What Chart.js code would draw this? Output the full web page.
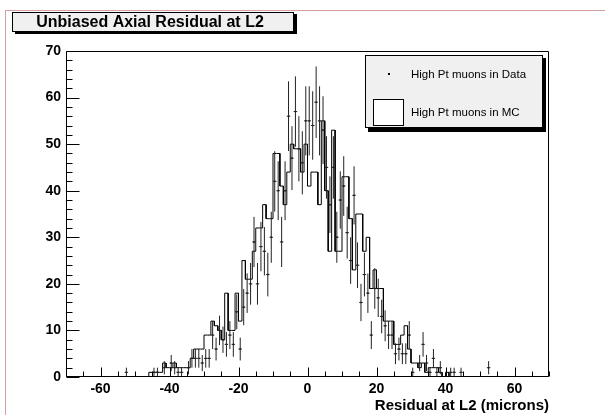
<!DOCTYPE html>
<html><head><meta charset="utf-8">
<script src="https://cdn.jsdelivr.net/npm/chart.js@4"></script>
<style>html,body{margin:0;padding:0;background:#fff}canvas{display:block}</style>
</head><body>
<canvas id="c" width="605" height="415"></canvas>
<script>
const chartTitle = 'Unbiased Axial Residual at L2';
const xAxisTitle = 'Residual at L2 (microns)';
const legendLabels = ['High Pt muons in Data', 'High Pt muons in MC'];
const xRange = [-70, 70];
const yRange = [0, 70];
const xTickLabels = [-60, -40, -20, 0, 20, 40, 60];
const yTickLabels = [0, 10, 20, 30, 40, 50, 60, 70];
// bin centres, 1 micron bins from -70 to 70
const binCenters = Array.from({length: 140}, (_, i) => -69.5 + i);
const dataCounts = [
  0,0,0,0,0,0,0,0,0,0,
  0,0,0,0,0,0,0,1,0,0,
  0,0,0,0,0,1,1,0,2,0,
  3,2,1,1,0,2,4,4,4,3,
  4,4,9,6,10,8,7,9,7,14,
  6,15,18,20,29,20,28,27,22,30,
  42,40,29,40,56,47,57,49,46,55,
  55,54,59,55,53,45,37,45,30,38,
  41,31,25,39,24,16,22,18,9,19,
  17,13,11,9,9,5,6,5,5,9,
  1,0,3,7,3,1,4,1,2,0,
  0,1,1,0,1,0,0,0,0,0,
  0,0,2,0,0,0,0,0,0,0,
  0,0,0,0,0,0,0,0,0,0
];
const mcCounts = [
  0,0,0,0,0,0,0,0,0,0,
  0,0,0,0,0,0,0,0,0,0,
  0,0,0,0,1,1,1,1,3,2,
  2,3,2,2,2,2,4,6,6,6,
  9,9,12,11,10,8,18,10,10,18,
  12,25,21,21,27,32,32,37,34,34,
  48,48,41,37,44,50,49,49,44,50,
  41,44,44,37,55,40,27,53,27,27,
  43,43,34,23,35,35,27,30,19,23,
  19,19,12,12,12,7,7,9,11,6,
  3,3,2,3,1,2,2,2,1,0,
  1,0,0,0,0,0,0,0,0,0,
  0,0,0,0,0,0,0,0,0,0,
  0,0,0,0,0,0,0,0,0,0
];

const FONT = '"Liberation Sans", Arial, Helvetica, sans-serif';

const mcStepPoints = [];
binCenters.forEach((c, i) => {
  mcStepPoints.push({x: c - 0.5, y: mcCounts[i]}, {x: c + 0.5, y: mcCounts[i]});
});
const dataPoints = binCenters.map((c, i) => ({x: c, y: dataCounts[i]})).filter(p => p.y > 0);

const decor = {
  id: 'decor',
  beforeDraw(chart) {
    const ctx = chart.ctx;
    ctx.save();
    ctx.fillStyle = '#fff';
    ctx.fillRect(0, 0, chart.width, chart.height);
    ctx.strokeStyle = '#d4a0a0';
    ctx.lineWidth = 1;
    ctx.beginPath();
    ctx.moveTo(5.5, chart.height); ctx.lineTo(5.5, 10.5); ctx.lineTo(chart.width, 10.5);
    ctx.stroke();
    ctx.restore();
  },
  afterDatasetsDraw(chart) {
    const ctx = chart.ctx, xs = chart.scales.x, ys = chart.scales.y, a = chart.chartArea;
    ctx.save();
    // error bars
    ctx.strokeStyle = '#222';
    ctx.lineWidth = 1;
    ctx.beginPath();
    dataPoints.forEach(p => {
      const e = Math.sqrt(p.y);
      const px = xs.getPixelForValue(p.x);
      const py = ys.getPixelForValue(p.y);
      const y1 = Math.max(a.top, ys.getPixelForValue(p.y + e));
      const y2 = Math.min(a.bottom, ys.getPixelForValue(p.y - e));
      ctx.moveTo(px, y1); ctx.lineTo(px, y2);
      ctx.moveTo(xs.getPixelForValue(p.x - 0.5), py); ctx.lineTo(xs.getPixelForValue(p.x + 0.5), py);
    });
    ctx.stroke();
    // frame
    ctx.strokeStyle = '#000';
    ctx.beginPath();
    ctx.rect(Math.round(a.left) + 0.5, Math.round(a.top) + 0.5, Math.round(a.right - a.left) - 1, Math.round(a.bottom - a.top) - 1);
    ctx.stroke();
    // ticks
    ctx.beginPath();
    const yb = Math.round(a.bottom) - 0.5;
    for (let v = xRange[0]; v <= xRange[1]; v += 5) {
      const px = Math.round(xs.getPixelForValue(v)) + 0.5;
      const len = xTickLabels.includes(v) ? 9 : 5;
      ctx.moveTo(px, yb); ctx.lineTo(px, yb - len);
    }
    const xl = Math.round(a.left) + 0.5;
    for (let v = yRange[0]; v <= yRange[1]; v += 2) {
      const py = Math.round(ys.getPixelForValue(v)) + 0.5;
      const len = yTickLabels.includes(v) ? 13 : 6;
      ctx.moveTo(xl, py); ctx.lineTo(xl + len, py);
    }
    ctx.stroke();
    ctx.restore();
  },
  afterDraw(chart) {
    const ctx = chart.ctx;
    ctx.save();
    // title box
    ctx.fillStyle = '#000';
    ctx.fillRect(15, 14, 282, 20);
    ctx.fillStyle = '#f0f0f0';
    ctx.fillRect(12, 12, 282, 20);
    ctx.strokeStyle = '#000';
    ctx.lineWidth = 1;
    ctx.strokeRect(12.5, 12.5, 281, 19);
    ctx.fillStyle = '#000';
    ctx.font = 'bold 16px ' + FONT;
    ctx.textAlign = 'center';
    ctx.textBaseline = 'middle';
    ctx.fillText(chartTitle, 150, 22.5);
    // legend
    ctx.fillStyle = '#000';
    ctx.fillRect(368, 58, 178, 74);
    ctx.fillStyle = '#f0f0f0';
    ctx.fillRect(365, 55, 178, 73);
    ctx.strokeRect(365.5, 55.5, 177, 72);
    ctx.fillStyle = '#000';
    ctx.fillRect(388, 73, 2, 2);
    ctx.fillStyle = '#fff';
    ctx.fillRect(373, 99, 31, 27);
    ctx.strokeRect(373.5, 99.5, 30, 26);
    ctx.fillStyle = '#000';
    ctx.font = '11.5px ' + FONT;
    ctx.textAlign = 'left';
    ctx.fillText(legendLabels[0], 411, 74.5);
    ctx.fillText(legendLabels[1], 411, 112.5);
    ctx.restore();
  }
};

const tickFont = {family: FONT, size: 14, weight: 'bold'};
const axisTitleFont = {family: FONT, size: 15, weight: 'bold'};

new Chart(document.getElementById('c'), {
  data: {
    datasets: [
      {type: 'line', label: legendLabels[1], data: mcStepPoints, borderColor: '#000', borderWidth: 1,
       pointRadius: 0, tension: 0, fill: false, order: 2},
      {type: 'scatter', label: legendLabels[0], data: dataPoints, backgroundColor: '#000', borderColor: '#000',
       pointStyle: 'rect', pointRadius: 1, borderWidth: 0, order: 1}
    ]
  },
  options: {
    responsive: false,
    animation: false,
    devicePixelRatio: 1,
    layout: {padding: {left: 0, right: 56, top: 51, bottom: 0}},
    plugins: {legend: {display: false}, title: {display: false}, tooltip: {enabled: false}},
    scales: {
      x: {
        type: 'linear', min: xRange[0], max: xRange[1],
        afterBuildTicks: s => { s.ticks = xTickLabels.map(v => ({value: v})); },
        afterFit: s => { s.height = 38; },
        grid: {display: false, drawTicks: false},
        border: {display: false},
        ticks: {font: tickFont, color: '#000', padding: 4, maxRotation: 0, autoSkip: false},
        title: {display: true, text: xAxisTitle, align: 'end', color: '#000', font: axisTitleFont, padding: {top: 0, bottom: 0}}
      },
      y: {
        type: 'linear', min: yRange[0], max: yRange[1],
        afterBuildTicks: s => { s.ticks = yTickLabels.map(v => ({value: v})); },
        afterFit: s => { s.width = 66; },
        grid: {display: false, drawTicks: false},
        border: {display: false},
        ticks: {font: tickFont, color: '#000', padding: 5, autoSkip: false}
      }
    }
  },
  plugins: [decor]
});
</script>
</body></html>
